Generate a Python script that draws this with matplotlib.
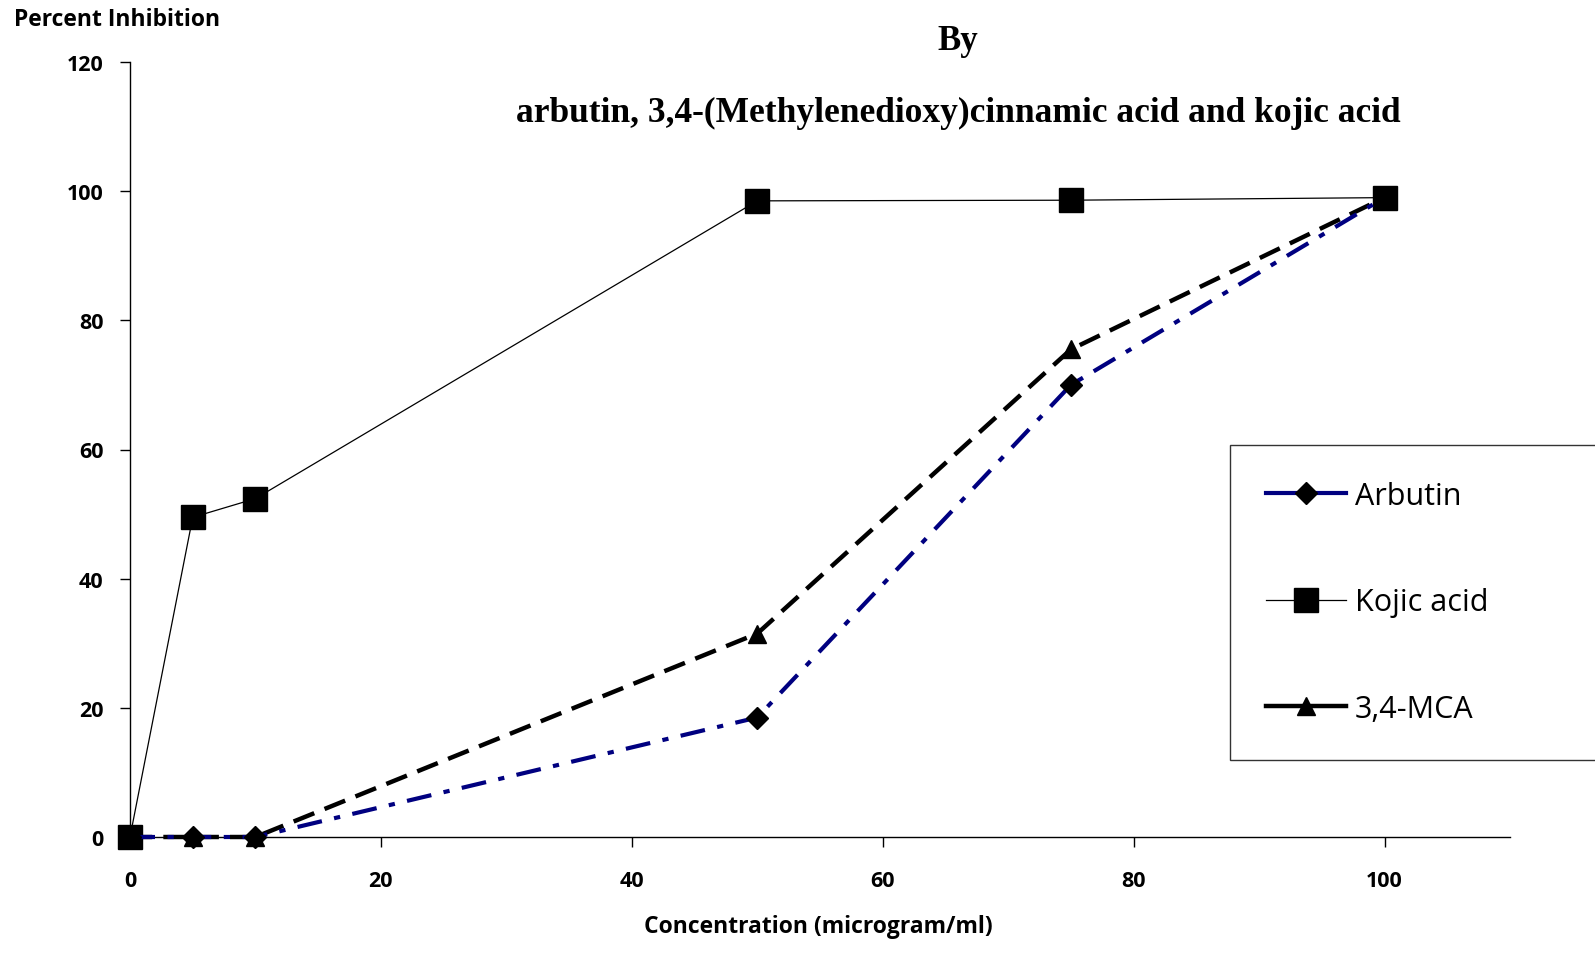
import matplotlib
matplotlib.use("Agg")
import matplotlib.pyplot as plt
from matplotlib.lines import Line2D

conc = [0, 5, 10, 50, 75, 100]
arbutin = [0, 0, 0, 18.5, 70.0, 99.0]
kojic = [0, 49.5, 52.4, 98.5, 98.6, 99.0]
mca = [0, 0, 0, 31.5, 75.5, 99.0]
series_labels = ["Arbutin", "Kojic acid", "3,4-MCA"]
xticks = [0, 20, 40, 60, 80, 100]
yticks = [0, 20, 40, 60, 80, 100, 120]

fig = plt.figure(figsize=(15.95, 9.62), dpi=100)
ax = fig.add_axes([130/1595, 1-838/962, (1510-130)/1595, (838-63)/962])

ax.plot(conc, kojic, color="black", lw=0.9, marker="s", ms=17, mfc="black", mec="black",
        label=series_labels[1], zorder=3, clip_on=False)
ax.plot(conc, mca, color="black", lw=3.2, dashes=(5, 2.5), marker="^", ms=13,
        mfc="black", mec="black", label=series_labels[2], zorder=4, clip_on=False)
ax.plot(conc, arbutin, color="#000080", lw=3.0, dashes=(6, 3, 1.5, 3), marker="D", ms=11,
        mfc="black", mec="black", label=series_labels[0], zorder=5, clip_on=False)

ax.set_xlim(0, 110)
ax.set_ylim(0, 120)
ax.set_xticks(xticks)
ax.set_yticks(yticks)
for s in ["top", "right"]:
    ax.spines[s].set_visible(False)
for s in ["left", "bottom"]:
    ax.spines[s].set_linewidth(1.0)
ax.tick_params(direction="out", length=7, width=1)
ax.tick_params(axis="x", pad=17)
ax.tick_params(axis="y", pad=12)
for lab in ax.get_xticklabels() + ax.get_yticklabels():
    lab.set_fontfamily("Open Sans")
    lab.set_fontweight("bold")
    lab.set_fontsize(15.5)

fig.text(14/1595, 1-20/962, "Percent Inhibition", fontfamily="Open Sans", fontweight="bold",
         fontsize=16.5, ha="left", va="center")
fig.text(818/1595, 1-927/962, "Concentration (microgram/ml)", fontfamily="Open Sans",
         fontweight="bold", fontsize=16.5, ha="center", va="center")
fig.text(958/1595, 1-42/962, "By", fontfamily="Liberation Serif", fontweight="bold",
         fontsize=25, ha="center", va="center")
fig.text(958/1595, 1-113/962, "arbutin, 3,4-(Methylenedioxy)cinnamic acid and kojic acid",
         fontfamily="Liberation Serif", fontweight="bold", fontsize=25.5, ha="center", va="center")

handles = [
    Line2D([], [], color="#000080", lw=3.0, marker="D", ms=11, mfc="black", mec="black"),
    Line2D([], [], color="black", lw=0.9, marker="s", ms=17, mfc="black", mec="black"),
    Line2D([], [], color="black", lw=3.2, marker="^", ms=13, mfc="black", mec="black"),
]
leg = fig.legend(handles, series_labels, loc="upper left",
                 bbox_to_anchor=(1230/1595, 1-765/962, 420/1595, (765-446)/962),
                 mode="expand", frameon=True, fancybox=False, edgecolor="black",
                 prop={"family": "Open Sans", "size": 22}, labelspacing=2.5,
                 handlelength=2.6, handletextpad=0.3, borderpad=1.18, borderaxespad=0)
leg.get_frame().set_linewidth(1.0)

fig.savefig("out.png", dpi=100)
